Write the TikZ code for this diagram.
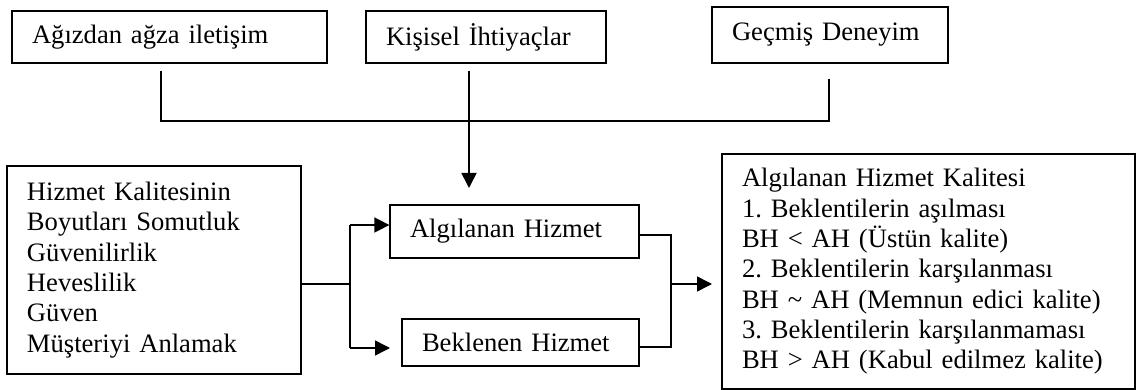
\documentclass[tikz,border=0pt]{standalone}
\usepackage{fontspec}
\setmainfont{Liberation Serif}
\usetikzlibrary{arrows.meta}
\frenchspacing
\begin{document}
\begin{tikzpicture}[x=1pt,y=-1pt,
  box/.style={draw, line width=1.3pt, inner xsep=20pt, inner ysep=0pt, align=left,
    font=\fontsize{26.6}{30.3}\selectfont\frenchspacing, anchor=center},
  ln/.style={line width=1.6pt},
  arr/.style={ln, -{Triangle[length=15pt,width=15pt]}}]
\useasboundingbox (0,0) rectangle (1141,390);

\node[box, text width=275pt, minimum height=52pt] (wom) at (169.5,37) {Ağızdan ağza iletişim};
\node[box, text width=200pt, minimum height=52pt] (need) at (486,37) {Kişisel İhtiyaçlar};
\node[box, text width=196pt, minimum height=56pt] (past) at (830,35) {Geçmiş Deneyim};
\node[box, text width=254pt, minimum height=208pt] (dim) at (154,270) {Hizmet Kalitesinin\\Boyutları Somutluk\\Güvenilirlik\\Heveslilik\\Güven\\Müşteriyi Anlamak};
\node[box, text width=209pt, minimum height=53pt] (ah) at (514.5,231.5) {Algılanan Hizmet};
\node[box, text width=197pt, minimum height=47pt] (bh) at (520.5,342.5) {Beklenen Hizmet};
\node[box, text width=373pt, minimum height=235pt] (q) at (928.5,271.5) {Algılanan Hizmet Kalitesi\\1. Beklentilerin aşılması\\BH < AH (Üstün kalite)\\2. Beklentilerin karşılanması\\BH \textasciitilde{} AH (Memnun edici kalite)\\3. Beklentilerin karşılanmaması\\BH > AH (Kabul edilmez kalite)};

% top collector
\coordinate (w1) at (161,71);
\coordinate (w2) at (161,121);
\coordinate (p1) at (829,79);
\coordinate (p2) at (829,121);
\draw[ln] (w1) -- (w2) -- (p2) -- (p1);
\coordinate (n1) at (469,71);
\coordinate (n2) at (469,188);
\draw[arr] (n1) -- (n2);

% left branch
\coordinate (j) at (350,284);
\coordinate (jt) at (350,225);
\coordinate (jb) at (350,348);
\coordinate (bt) at (390,348);
\draw[ln] (dim.east |- j) -- (j);
\draw[ln] (jt) -- (jb);
\draw[arr] (jt) -- (ah.west |- jt);
\draw[arr] (jb) -- (bt);

% right merge
\coordinate (r1) at (671,235);
\coordinate (r2) at (671,347);
\coordinate (rm) at (671,284);
\coordinate (rt) at (712,284);
\draw[ln] (ah.east |- r1) -- (r1) -- (r2) -- (bh.east |- r2);
\draw[arr] (rm) -- (rt);
\end{tikzpicture}
\end{document}
